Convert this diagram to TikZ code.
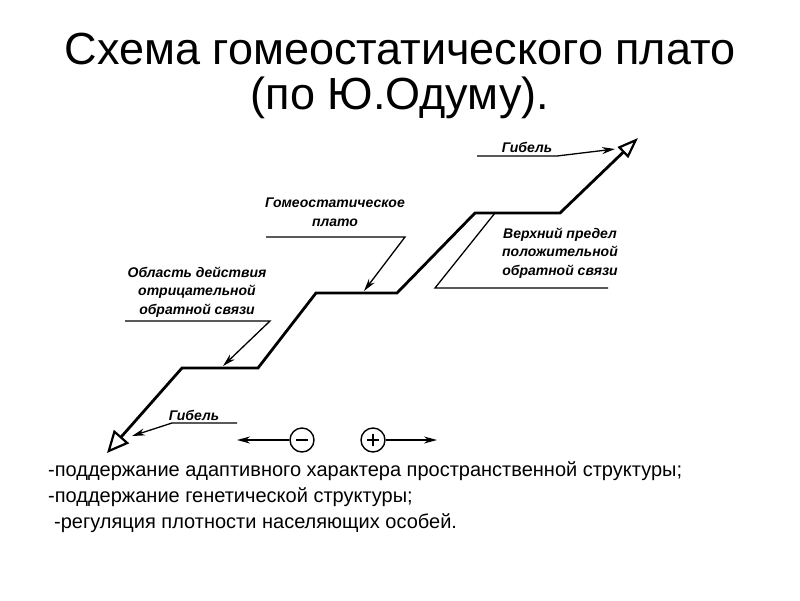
\documentclass[tikz,border=0pt]{standalone}
\usepackage{fontspec}
\setmainfont{Liberation Sans}
\usetikzlibrary{arrows.meta}

\tikzset{
  stair/.style={line width=2.8pt, line join=miter},
  pointer/.style={line width=1.3pt},
  lbl/.style={font=\fontsize{14}{18.5}\selectfont\bfseries\itshape, align=center, inner sep=0pt},
  sign/.style={circle, draw, line width=1.4pt, minimum size=24pt, inner sep=0pt},
  item/.style={anchor=west, inner sep=0pt, font=\fontsize{20}{22}\selectfont},
  minussign/.style={path picture={\draw[line width=1.4pt] ([xshift=-6pt]path picture bounding box.center) -- ([xshift=6pt]path picture bounding box.center);}},
  plussign/.style={path picture={
    \draw[line width=1.4pt] ([xshift=-6pt]path picture bounding box.center) -- ([xshift=6pt]path picture bounding box.center);
    \draw[line width=1.4pt] ([yshift=-6pt]path picture bounding box.center) -- ([yshift=6pt]path picture bounding box.center);}},
}

\begin{document}
\begin{tikzpicture}[x=1pt,y=-1pt]
\useasboundingbox (0,0) rectangle (800,600);

% title
\node (title) at (400,49) {\fontsize{45}{48}\selectfont Схема гомеостатического плато};
\node (title2) at (400,98) {\fontsize{45}{48}\selectfont (по Ю.Одуму).};

% staircase corners
\coordinate (S0) at (107,453); % lower end
\coordinate (S1) at (182,368);
\coordinate (S2) at (258,368);
\coordinate (S3) at (316,293);
\coordinate (S4) at (397,293);
\coordinate (S5) at (475,213);
\coordinate (S6) at (560,213);
\coordinate (S7) at (638,138); % upper end

\draw[stair, {Triangle[open,length=22pt,width=20pt,line width=2.2pt]}-{Triangle[open,length=21pt,width=15pt,line width=2.2pt]}]
  (S0) -- (S1) -- (S2) -- (S3) -- (S4) -- (S5) -- (S6) -- (S7);

% upper death
\node[lbl] (gibtop) at (527,147) {Гибель};
\coordinate (gt0) at (477,156);
\coordinate (gt1) at (557,156);
\coordinate (gt2) at (615,149);
\draw[pointer, -{Stealth[length=13pt,width=7pt]}] (gt0) -- (gt1) -- (gt2);

% plateau
\node[lbl] (plato) at (335,212) {Гомеостатическое\\плато};
\coordinate (pl0) at (266,237);
\coordinate (pl1) at (405,237);
\coordinate (pl2) at (364,291);
\draw[pointer, -{Stealth[length=13pt,width=7pt]}] (pl0) -- (pl1) -- (pl2);

% negative feedback
\node[lbl] (negfb) at (197,292) {Область действия\\отрицательной\\обратной связи};
\coordinate (nf0) at (125,321);
\coordinate (nf1) at (270,321);
\coordinate (nf2) at (223,366);
\draw[pointer, -{Stealth[length=13pt,width=7pt]}] (nf0) -- (nf1) -- (nf2);

% positive feedback limit
\node[lbl] (posfb) at (560,253) {Верхний предел\\положительной\\обратной связи};
\coordinate (pf0) at (495,213);
\coordinate (pf1) at (435,288);
\coordinate (pf2) at (608,288);
\draw[pointer] (pf0) -- (pf1) -- (pf2);

% lower death
\node[lbl] (gibbot) at (194,415) {Гибель};
\coordinate (gb0) at (237,423);
\coordinate (gb1) at (172,423);
\coordinate (gb2) at (132,436);
\draw[pointer, -{Stealth[length=13pt,width=7pt]}] (gb0) -- (gb1) -- (gb2);

% signs
\node[sign, minussign] (minus) at (302,440) {};
\node[sign, plussign] (plus) at (373,440) {};
\coordinate (mend) at (237,440);
\coordinate (pend) at (437,440);
\draw[pointer, -{Stealth[length=13pt,width=7pt]}] (minus) -- (mend);
\draw[pointer, -{Stealth[length=13pt,width=7pt]}] (plus) -- (pend);

% list
\node[item] (it1) at (48,471) {-поддержание адаптивного характера пространственной структуры;};
\node[item] (it2) at (48,497) {-поддержание генетической структуры;};
\node[item] (it3) at (54,523) {-регуляция плотности населяющих особей.};

\end{tikzpicture}
\end{document}
